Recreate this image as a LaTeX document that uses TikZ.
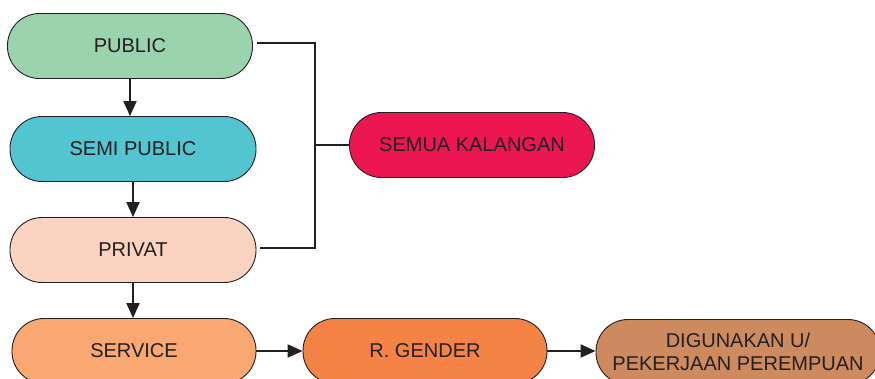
\documentclass[tikz,border=0pt]{standalone}
\usepackage{fontspec}
\setmainfont{Liberation Sans}
\usetikzlibrary{arrows.meta}
\definecolor{cpub}{HTML}{9BD3AE}
\definecolor{csemi}{HTML}{52C5D0}
\definecolor{cpriv}{HTML}{FBD3C1}
\definecolor{cserv}{HTML}{F8A870}
\definecolor{cgen}{HTML}{F58345}
\definecolor{cdig}{HTML}{CD8A5E}
\definecolor{csem}{HTML}{EC1651}
\definecolor{cline}{HTML}{231F20}
\begin{document}
\begin{tikzpicture}[x=1pt,y=-1pt,
  pill/.style={draw=cline, line width=0.9pt, rounded corners=32pt, minimum height=65pt,
    inner sep=0pt, align=center, font=\fontsize{20}{23}\selectfont, text=cline},
  conn/.style={draw=cline, line width=2pt},
  arr/.style={conn, -{Triangle[length=15pt,width=13pt]}}]
\useasboundingbox (0,0) rectangle (875,379);
\node[pill, fill=cpub, minimum width=245pt] (pub) at (130,46) {PUBLIC};
\node[pill, fill=csemi, minimum width=246pt] (semi) at (133,149) {SEMI PUBLIC};
\node[pill, fill=cpriv, minimum width=246pt] (priv) at (133,250) {PRIVAT};
\node[pill, fill=cserv, minimum width=244pt] (serv) at (134,351) {SERVICE};
\node[pill, fill=cgen, minimum width=244pt] (gen) at (425,351) {R. GENDER};
\node[pill, fill=cdig, minimum width=284pt] (dig) at (738,352) {DIGUNAKAN U/\\PEKERJAAN PEREMPUAN};
\node[pill, fill=csem, minimum width=245pt] (sem) at (472,145) {SEMUA KALANGAN};
\coordinate (br) at (315,145);
\draw[arr] (pub.south) -- (pub.south |- semi.north);
\draw[arr] (semi.south) -- (semi.south |- priv.north);
\draw[arr] (priv.south) -- (priv.south |- serv.north);
\draw[arr] (serv.east) -- (serv.east -| gen.west);
\draw[arr] (gen.east) -- (gen.east -| dig.west);
\draw[conn, shorten <=4pt] ([yshift=3pt]pub.east) -| (br);
\draw[conn, shorten <=4pt] ([yshift=2pt]priv.east) -| (br);
\draw[conn] (br) -- (sem.west);
\end{tikzpicture}
\end{document}
